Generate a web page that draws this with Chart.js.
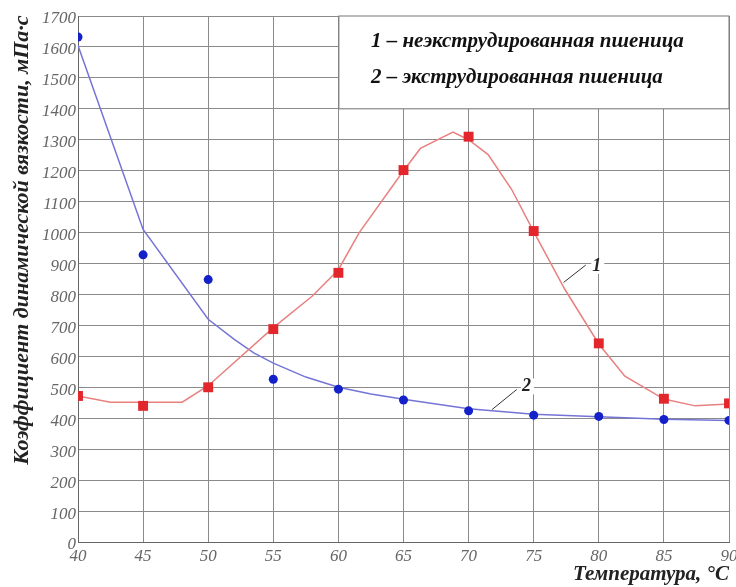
<!DOCTYPE html>
<html>
<head>
<meta charset="utf-8">
<script src="https://cdn.jsdelivr.net/npm/chart.js@4.4.1/dist/chart.umd.min.js"></script>
<style>
  body { margin: 0; background: #fff; }
</style>
</head>
<body>
<canvas id="viscChart" width="736" height="587"></canvas>
<script>
// measured points
const temps = [40, 45, 50, 55, 60, 65, 70, 75, 80, 85, 90];
const rawWheat = [472, 440, 500, 688, 870, 1202, 1310, 1005, 642, 463, 448];
const extrudedWheat = [1632, 928, 848, 526, 494, 459, 424, 410, 406, 396, 393];

// fitted curves as drawn in the figure
const rawCurveT = [40, 42.5, 48, 50, 55, 58, 60, 61.6, 65, 66.3, 68.8, 70, 71.5, 73.3, 75, 77.4, 80, 82, 85, 87.4, 90];
const rawCurveV = [472, 452, 452, 505, 693, 795, 880, 1000, 1200, 1272, 1325, 1300, 1252, 1140, 1003, 816, 640, 536, 462, 440, 446];
const extCurveT = [40, 45, 50, 52, 53.5, 55, 57.5, 60, 62.5, 65, 70, 75, 80, 85, 90];
const extCurveV = [1605, 1010, 720, 655, 611, 578, 533, 500, 478, 461, 431, 413, 405, 397, 393];

const legendLines = ['1 – неэкструдированная пшеница', '2 – экструдированная пшеница'];
const yTitle = 'Коэффициент динамической вязкости, мПа·с';
const xTitle = 'Температура, °С';

const SERIF = '"Liberation Serif", "Times New Roman", serif';

function pts(xs, ys) {
  return xs.map((x, i) => ({ x: x, y: ys[i] }));
}

const figureExtras = {
  id: 'figureExtras',
  beforeDatasetsDraw(chart) {
    const { ctx, scales: { x, y }, chartArea } = chart;
    // legend box over the top right grid
    const left = x.getPixelForValue(60) + 0.5;
    const bottom = y.getPixelForValue(1400);
    ctx.save();
    ctx.fillStyle = '#fff';
    ctx.fillRect(left, chartArea.top, chartArea.right - left, bottom - chartArea.top);
    ctx.strokeStyle = '#777';
    ctx.lineWidth = 1;
    ctx.strokeRect(left, chartArea.top, chartArea.right - left, bottom - chartArea.top);
    ctx.fillStyle = '#111';
    ctx.font = 'italic bold 21px ' + SERIF;
    ctx.textBaseline = 'middle';
    ctx.fillText(legendLines[0], left + 32, chartArea.top + 26);
    ctx.fillText(legendLines[1], left + 32, chartArea.top + 62);
    ctx.restore();
  },
  afterDatasetsDraw(chart) {
    const { ctx, scales: { x, y } } = chart;
    ctx.save();
    ctx.font = 'italic bold 18px ' + SERIF;
    ctx.textBaseline = 'middle';
    ctx.strokeStyle = '#333';
    ctx.lineWidth = 1;
    const tags = [
      { text: '1', from: [77.3, 839], to: [79.0, 895], at: [79.5, 892] },
      { text: '2', from: [71.8, 428], to: [73.7, 493], at: [74.1, 503] }
    ];
    tags.forEach(t => {
      const tx = x.getPixelForValue(t.at[0]);
      const ty = y.getPixelForValue(t.at[1]);
      ctx.fillStyle = '#fff';
      ctx.fillRect(tx - 1, ty - 8, 13, 16);
      ctx.beginPath();
      ctx.moveTo(x.getPixelForValue(t.from[0]), y.getPixelForValue(t.from[1]));
      ctx.lineTo(x.getPixelForValue(t.to[0]), y.getPixelForValue(t.to[1]));
      ctx.stroke();
      ctx.fillStyle = '#222';
      ctx.fillText(t.text, tx, ty);
    });
    ctx.restore();
  },
  afterDraw(chart) {
    const { ctx } = chart;
    ctx.save();
    ctx.translate(22, 240);
    ctx.rotate(-Math.PI / 2);
    ctx.font = 'italic bold 22px ' + SERIF;
    ctx.fillStyle = '#222';
    ctx.textAlign = 'center';
    ctx.textBaseline = 'middle';
    ctx.fillText(yTitle, 0, 0);
    ctx.restore();
  }
};

new Chart(document.getElementById('viscChart'), {
  type: 'scatter',
  data: {
    datasets: [
      {
        label: 'raw points',
        data: pts(temps, rawWheat),
        showLine: false,
        pointStyle: 'rect',
        pointRadius: 7,
        pointBackgroundColor: '#e3262b',
        pointBorderColor: '#e3262b',
        pointBorderWidth: 0
      },
      {
        label: 'extruded points',
        data: pts(temps, extrudedWheat),
        showLine: false,
        pointStyle: 'circle',
        pointRadius: 4.5,
        pointBackgroundColor: '#1420c8',
        pointBorderColor: '#1420c8',
        pointBorderWidth: 0
      },
      {
        label: 'raw curve',
        data: pts(rawCurveT, rawCurveV),
        showLine: true,
        pointRadius: 0,
        borderColor: '#e88080',
        borderWidth: 1.5,
        tension: 0
      },
      {
        label: 'extruded curve',
        data: pts(extCurveT, extCurveV),
        showLine: true,
        pointRadius: 0,
        borderColor: '#7474d6',
        borderWidth: 1.5,
        tension: 0
      }
    ]
  },
  options: {
    responsive: false,
    animation: false,
    layout: { padding: { top: 16, right: 5, left: 0, bottom: 0 } },
    plugins: { legend: { display: false }, tooltip: { enabled: false } },
    scales: {
      x: {
        type: 'linear',
        min: 40, max: 90,
        ticks: { stepSize: 5, color: '#666', padding: 4, font: { family: SERIF, size: 17, style: 'italic' } },
        grid: { color: '#8a8a8a', tickLength: 0 },
        border: { color: '#666' },
        title: { display: true, text: xTitle, align: 'end', color: '#222', padding: { top: -2, bottom: 0 }, font: { family: SERIF, size: 21, style: 'italic', weight: 'bold' } },
        afterFit(scale) { scale.height = 45; scale.paddingLeft = 0; scale.paddingRight = 0; }
      },
      y: {
        min: 0, max: 1700,
        ticks: { stepSize: 100, color: '#666', padding: 2, labelOffset: 3, font: { family: SERIF, size: 17, style: 'italic' }, callback: v => String(v) },
        grid: { color: '#8a8a8a', tickLength: 0 },
        border: { color: '#666' },
        afterFit(scale) { scale.width = 78; scale.paddingTop = 0; scale.paddingBottom = 0; }
      }
    }
  },
  plugins: [figureExtras]
});
</script>
</body>
</html>
